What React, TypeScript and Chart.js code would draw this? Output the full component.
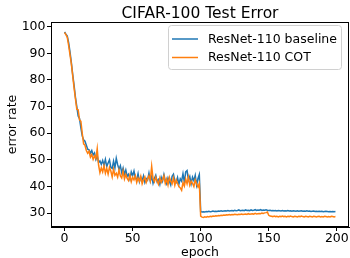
import React, { useEffect, useRef } from "react";
import { Chart, registerables } from "chart.js";

Chart.register(...registerables);

const TITLE = "CIFAR-100 Test Error";
const X_LABEL = "epoch";
const Y_LABEL = "error rate";
const SERIES_NAMES = ["ResNet-110 baseline", "ResNet-110 COT"];
const X_TICKS = [0, 50, 100, 150, 200];
const Y_TICKS = [30, 40, 50, 60, 70, 80, 90, 100];

const baseline = [
  98.0, 97.2, 96.5, 94.0, 90.5, 86.5, 82.0, 78.0, 73.5, 70.0,
  66.5, 65.5, 62.0, 59.0, 57.5, 57.0, 55.5, 54.0, 53.8, 52.5,
  53.5, 51.8, 52.6, 50.2, 51.5, 49.0, 49.6, 48.3, 49.8, 48.0,
  50.2, 47.5, 48.8, 50.0, 47.2, 46.8, 49.5, 47.0, 50.6, 48.2,
  46.5, 47.8, 45.2, 46.9, 44.5, 46.2, 43.8, 44.6, 42.8, 45.5,
  44.0, 45.8, 43.2, 42.5, 44.8, 41.8, 43.5, 42.2, 44.0, 41.5,
  43.0, 42.4, 45.0, 42.0, 43.8, 41.2, 43.0, 44.2, 41.8, 42.6,
  40.8, 43.5, 42.0, 44.5, 42.2, 41.0, 43.2, 42.0, 40.6, 43.8,
  44.6, 42.0, 41.5, 43.4, 40.8, 42.9, 42.0, 44.8, 41.6, 45.5,
  46.0, 42.5, 43.8, 41.0, 43.5, 42.2, 44.2, 40.5, 43.0, 44.5,
  30.6, 30.4, 30.5, 30.4, 30.6, 30.5, 30.7, 30.5, 30.6, 30.8,
  30.6, 30.7, 30.6, 30.8, 30.7, 30.9, 30.7, 30.8, 30.9, 30.8,
  31.0, 30.8, 30.9, 31.0, 30.8, 31.1, 30.9, 31.0, 31.2, 30.9,
  31.0, 31.1, 30.9, 31.2, 31.0, 31.1, 30.9, 31.2, 31.0, 31.1,
  31.3, 31.0, 31.2, 31.1, 31.3, 31.0, 31.2, 31.1, 31.3, 31.1,
  31.0, 31.1, 30.9, 31.0, 30.9, 31.0, 30.8, 31.0, 30.9, 30.8,
  31.0, 30.8, 30.9, 30.8, 31.0, 30.8, 30.9, 30.7, 30.9, 30.8,
  30.7, 30.9, 30.7, 30.8, 30.9, 30.7, 30.8, 30.7, 30.9, 30.7,
  30.8, 30.6, 30.7, 30.8, 30.6, 30.7, 30.6, 30.7, 30.6, 30.7,
  30.5, 30.6, 30.7, 30.6, 30.5, 30.6, 30.5, 30.6, 30.5, 30.6,
];

const cot = [
  97.8, 97.0, 96.0, 93.0, 89.5, 86.0, 81.5, 77.0, 73.0, 69.0,
  68.8, 65.0, 64.5, 60.0, 56.0, 55.5, 53.5, 52.5, 53.2, 51.0,
  52.0, 50.2, 51.5, 50.5, 54.2, 48.0, 45.2, 47.0, 45.5, 47.8,
  45.0, 46.8, 44.6, 47.2, 45.8, 43.6, 46.5, 44.2, 45.0, 43.5,
  46.2, 44.0, 43.2, 45.8, 42.8, 44.5, 43.0, 42.2, 44.2, 41.8,
  43.5, 42.5, 44.0, 41.5, 43.2, 42.0, 43.8, 41.0, 42.5, 43.6,
  41.5, 42.8, 44.0, 42.2, 47.6, 43.0, 41.8, 43.5, 42.0, 40.8,
  43.2, 41.5, 42.6, 44.0, 41.2, 42.8, 40.6, 43.5, 42.0, 41.0,
  43.2, 40.5, 42.5, 41.2, 40.0, 39.5, 38.6, 41.5, 40.2, 42.8,
  41.0, 43.5, 40.5, 42.0, 41.2, 40.0, 42.5, 41.0, 39.8, 41.2,
  28.9, 28.5, 28.4, 28.6, 28.5, 28.7, 28.6, 28.8, 28.7, 28.9,
  28.8, 29.0, 28.9, 29.1, 29.0, 29.2, 29.1, 29.3, 29.2, 29.4,
  29.3, 29.5, 29.3, 29.5, 29.4, 29.6, 29.5, 29.4, 29.6, 29.5,
  29.7, 29.5, 29.6, 29.7, 29.5, 29.8, 29.6, 29.7, 29.8, 29.6,
  29.9, 29.7, 29.8, 29.9, 29.8, 30.0, 29.9, 30.1, 30.2, 30.4,
  29.2, 28.9, 28.8, 28.7, 28.9, 28.7, 28.8, 28.6, 28.8, 28.7,
  28.9, 28.7, 28.8, 28.6, 28.8, 28.7, 28.9, 28.7, 28.6, 28.8,
  28.7, 28.6, 28.8, 28.7, 28.9, 28.7, 28.6, 28.8, 28.7, 28.6,
  28.8, 28.7, 28.6, 28.8, 28.7, 28.6, 28.7, 28.8, 28.6, 28.7,
  28.6, 28.8, 28.7, 28.6, 28.7, 28.6, 28.8, 28.7, 28.6, 28.7,
];

const epochs = baseline.map((_, i) => i);

const BLUE = "#1f77b4";
const ORANGE = "#ff7f0e";
const FONT = "'DejaVu Sans', sans-serif";

const decorPlugin = {
  id: "decor",
  afterDraw(chart: any) {
    const { ctx, chartArea } = chart;
    const { left, right, top, bottom } = chartArea;
    ctx.save();
    // frame
    ctx.strokeStyle = "#000";
    ctx.lineWidth = 1;
    ctx.strokeRect(left + 0.5, top + 0.5, right - left - 1, bottom - top - 1);
    // title
    ctx.fillStyle = "#000";
    ctx.font = `15.5px ${FONT}`;
    ctx.textAlign = "center";
    ctx.textBaseline = "alphabetic";
    ctx.fillText(TITLE, (left + right) / 2, 17.5);
    // x label
    ctx.font = `12.5px ${FONT}`;
    ctx.fillText(X_LABEL, (left + right) / 2, 256);
    // y label
    ctx.save();
    ctx.translate(13, (top + bottom) / 2);
    ctx.rotate(-Math.PI / 2);
    ctx.textBaseline = "middle";
    ctx.fillText(Y_LABEL, 0, 0);
    ctx.restore();
    // legend
    const lx = 168.5, ly = 25.5, lw = 173, lh = 44;
    ctx.beginPath();
    ctx.roundRect(lx, ly, lw, lh, 3);
    ctx.fillStyle = "rgba(255,255,255,0.85)";
    ctx.fill();
    ctx.strokeStyle = "#d0d0d0";
    ctx.stroke();
    const colors = [BLUE, ORANGE];
    const rows = [39, 57.5];
    SERIES_NAMES.forEach((name, i) => {
      ctx.beginPath();
      ctx.strokeStyle = colors[i];
      ctx.lineWidth = 1.5;
      ctx.moveTo(172, rows[i]);
      ctx.lineTo(198, rows[i]);
      ctx.stroke();
      ctx.fillStyle = "#000";
      ctx.font = `12.5px ${FONT}`;
      ctx.textAlign = "left";
      ctx.textBaseline = "middle";
      ctx.fillText(name, 208, rows[i] + 0.5);
    });
    ctx.restore();
  },
};

export default function App() {
  const ref = useRef<HTMLCanvasElement | null>(null);
  useEffect(() => {
    if (!ref.current) return;
    const chart = new Chart(ref.current, {
      type: "line",
      data: {
        datasets: [
          {
            label: SERIES_NAMES[0],
            data: epochs.map((e, i) => ({ x: e, y: baseline[i] })),
            borderColor: BLUE,
            borderWidth: 1.5,
            pointRadius: 0,
            fill: false,
            tension: 0,
            order: 1,
          },
          {
            label: SERIES_NAMES[1],
            data: epochs.map((e, i) => ({ x: e, y: cot[i] })),
            borderColor: ORANGE,
            borderWidth: 1.5,
            pointRadius: 0,
            fill: false,
            tension: 0,
            order: 0,
          },
        ],
      },
      options: {
        animation: false,
        responsive: false,
        layout: { padding: { top: 22, right: 1, left: 0, bottom: 0 } },
        plugins: {
          legend: { display: false },
          title: { display: false },
          tooltip: { enabled: false },
        },
        scales: {
          x: {
            type: "linear",
            min: -9.95,
            max: 208.95,
            afterBuildTicks: (s: any) => {
              s.ticks = X_TICKS.map((v) => ({ value: v }));
            },
            afterFit: (s: any) => {
              s.height = 31;
            },
            grid: {
              drawOnChartArea: false,
              drawTicks: true,
              tickLength: 4,
              color: "#000",
            },
            border: { display: true, color: "#000", width: 1 },
            ticks: {
              color: "#000",
              font: { family: FONT, size: 12.5 },
              padding: 0,
              maxRotation: 0,
            },
          },
          y: {
            type: "linear",
            min: 24.8,
            max: 101.75,
            afterBuildTicks: (s: any) => {
              s.ticks = Y_TICKS.map((v) => ({ value: v }));
            },
            afterFit: (s: any) => {
              s.width = 51;
            },
            grid: {
              drawOnChartArea: false,
              drawTicks: true,
              tickLength: 4,
              color: "#000",
            },
            border: { display: true, color: "#000", width: 1 },
            ticks: {
              color: "#000",
              font: { family: FONT, size: 12.5 },
              padding: 1.5,
            },
          },
        },
      },
      plugins: [decorPlugin],
    });
    return () => chart.destroy();
  }, []);
  return (
    <div style={{ position: "absolute", left: 0, top: 0, width: 350, height: 258, background: "#fff" }}>
      <canvas ref={ref} width={350} height={258} style={{ display: "block" }} />
    </div>
  );
}
